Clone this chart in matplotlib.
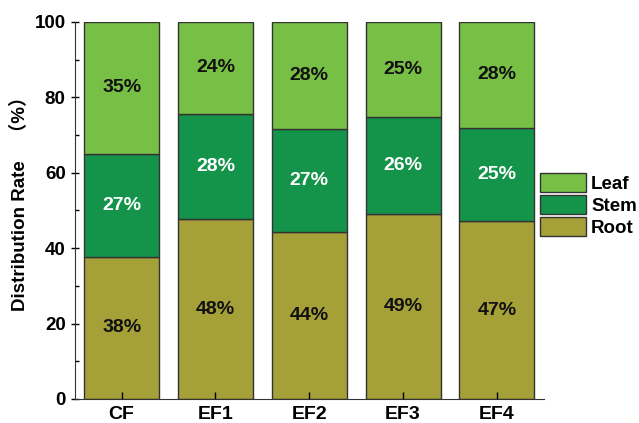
import numpy as np
import matplotlib.pyplot as plt

# data
groups = ['CF', 'EF1', 'EF2', 'EF3', 'EF4']
root = [37.7, 47.6, 44.2, 49.0, 47.1]
stem = [27.3, 28.0, 27.4, 25.7, 24.8]
leaf = [35.0, 24.4, 28.4, 25.3, 28.1]

c_root = '#A6A038'
c_stem = '#14944A'
c_leaf = '#78BF45'
edge = '#333333'

plt.rcParams['font.family'] = ['Liberation Sans', 'Noto Sans CJK SC']
plt.rcParams['font.weight'] = 'bold'

fig = plt.figure(figsize=(6.39, 4.23), dpi=100)
ax = fig.add_axes([0.117, 0.057, 0.734, 0.891])

x = np.arange(len(groups))
w = 0.8
b1 = ax.bar(x, root, w, color=c_root, edgecolor=edge, linewidth=1, label='Root')
b2 = ax.bar(x, stem, w, bottom=root, color=c_stem, edgecolor=edge, linewidth=1, label='Stem')
bottom2 = np.array(root) + np.array(stem)
b3 = ax.bar(x, leaf, w, bottom=bottom2, color=c_leaf, edgecolor=edge, linewidth=1, label='Leaf')

# percentage labels in the middle of each segment
for i in range(len(groups)):
    ax.text(x[i], root[i] / 2, f'{root[i]:.0f}%', ha='center', va='center',
            fontsize=14, fontweight='bold', color='#111111')
    ax.text(x[i], root[i] + stem[i] / 2, f'{stem[i]:.0f}%', ha='center', va='center',
            fontsize=14, fontweight='bold', color='white')
    ax.text(x[i], bottom2[i] + leaf[i] / 2, f'{leaf[i]:.0f}%', ha='center', va='center',
            fontsize=14, fontweight='bold', color='#111111')

ax.set_xlim(-0.5, 4.5)
ax.set_ylim(0, 100)
ax.set_xticks(x)
ax.set_xticklabels(groups, fontsize=14, fontweight='bold')
ax.set_yticks(range(0, 101, 20))
ax.set_yticks(range(10, 100, 20), minor=True)
ax.tick_params(axis='y', which='major', labelsize=13.5, direction='inout', length=6, width=1)
ax.tick_params(axis='y', which='minor', direction='in', length=3, width=1)
ax.tick_params(axis='x', which='major', direction='in', length=5, width=1, pad=5)
for t in ax.get_yticklabels():
    t.set_fontweight('bold')

ax.spines['top'].set_visible(False)
ax.spines['right'].set_visible(False)
ax.spines['left'].set_color('#333333')
ax.spines['bottom'].set_color('#333333')

ax.set_ylabel('Distribution Rate\u3000（%）', fontsize=13.5, fontweight='bold')
ax.yaxis.set_label_coords(-0.098, 0.53)

leg = ax.legend(handles=[b3, b2, b1], loc='center left', bbox_to_anchor=(0.991, 0.515),
                frameon=False, fontsize=13.5, handlelength=2.45, handleheight=1.2,
                labelspacing=0.12, handletextpad=0.3, borderpad=0, borderaxespad=0)
for t in leg.get_texts():
    t.set_fontweight('bold')

fig.savefig('out.png', dpi=100)
